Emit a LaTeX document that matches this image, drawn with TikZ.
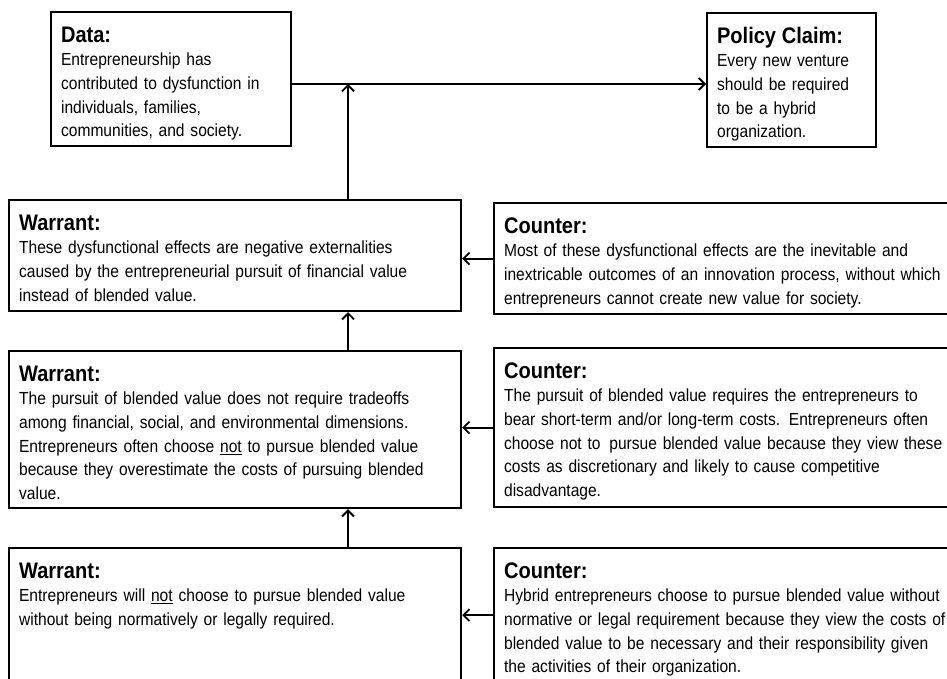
\documentclass[tikz,border=0pt]{standalone}
\usepackage{fontspec}
\setmainfont{Liberation Sans}[FakeStretch=0.89]
\usepackage{tikz}
\usetikzlibrary{arrows.meta,calc}
\tikzset{>={Straight Barb[length=6pt,width=12pt]}}
\tikzset{
	argbox/.style={draw, line width=2.2pt, anchor=north west, align=left, inner xsep=10pt, inner ysep=0pt, text height=30pt, font=\fontsize{17.5}{23.7}\selectfont, text width=#1},
	link/.style={->, line width=1.8pt}
}
\newcommand{\boxhead}[1]{{\fontsize{22.5}{23.7}\selectfont\bfseries #1}}

\begin{document}
\begin{tikzpicture}[x=1pt,y=1pt]
	\useasboundingbox (0,0) rectangle (947,-678);
	\clip (0,0) rectangle (947,-678);
	
	% Top row: data and claim
	\node[argbox=220pt, text depth=104pt] (data) at (50,-11) {\boxhead{Data:}\\ Entrepreneurship has\\ contributed to dysfunction in\\ individuals, families,\\ communities, and society.};
	\node[argbox=149pt, text depth=104pt] (pol) at (706,-12) {\boxhead{Policy Claim:}\\ Every new venture\\ should be required\\ to be a hybrid\\ organization.};
	\coordinate (j) at (348,-84); % junction on the data line
	
	% Warrants (left column)
	\node[argbox=432pt, text depth=81pt] (w1) at (8,-199) {\boxhead{Warrant:}\\ These dysfunctional effects are negative externalities\\ caused by the entrepreneurial pursuit of financial value\\ instead of blended value.};
	\node[argbox=432pt, text depth=127pt] (w2) at (8,-350) {\boxhead{Warrant:}\\ The pursuit of blended value does not require tradeoffs\\ among financial, social, and environmental dimensions.\\ Entrepreneurs often choose \underline{not} to pursue blended value\\ because they overestimate the costs of pursuing blended\\ value.};
	\node[argbox=432pt, text depth=104pt] (w3) at (8,-547) {\boxhead{Warrant:}\\ Entrepreneurs will \underline{not} choose to pursue blended value\\ without being normatively or legally required.};
	
	% Counters (right column, running off the right edge)
	\node[argbox=480pt, text depth=81pt] (c1) at (493,-202) {\boxhead{Counter:}\\ Most of these dysfunctional effects are the inevitable and\\ inextricable outcomes of an innovation process, without which\\ entrepreneurs cannot create new value for society.};
	\node[argbox=480pt, text depth=129pt] (c2) at (493,-347) {\boxhead{Counter:}\\ The pursuit of blended value requires the entrepreneurs to\\ bear short-term and/or long-term costs.\enspace Entrepreneurs often\\ choose not to\, pursue blended value because they view these\\ costs as discretionary and likely to cause competitive\\ disadvantage.};
	\node[argbox=480pt, text depth=104pt] (c3) at (493,-547) {\boxhead{Counter:}\\ Hybrid entrepreneurs choose to pursue blended value without\\ normative or legal requirement because they view the costs of\\ blended value to be necessary and their responsibility given\\ the activities of their organization.};
	
	% Connectors
	\draw[link] (data.east |- j) -- (pol.west |- j);
	\draw[link] (w1.north -| j) -- (j);
	\draw[link] (w2.north -| j) -- (w1.south -| j);
	\draw[link] (w3.north -| j) -- (w2.south -| j);
	\draw[link] (c1.west) -- (c1.west -| w1.east);
	\draw[link] (c2.west) -- (c2.west -| w2.east);
	\draw[link] (c3.west) -- (c3.west -| w3.east);
\end{tikzpicture}
\end{document}
